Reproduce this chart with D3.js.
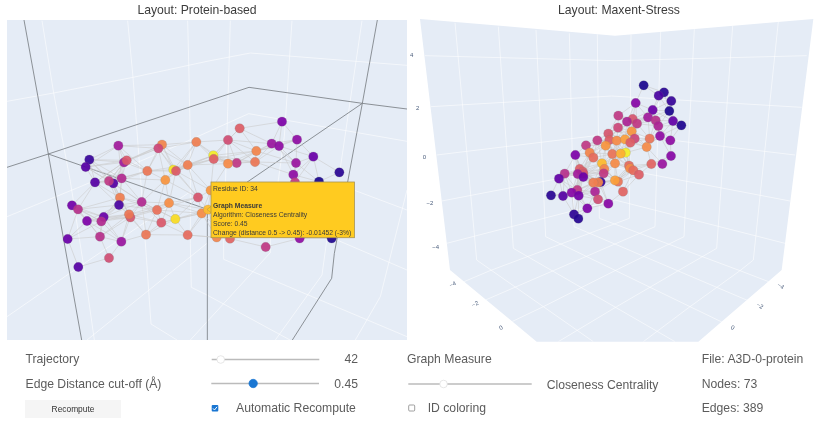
<!DOCTYPE html>
<html>
<head>
<meta charset="utf-8">
<script src="https://cdn.jsdelivr.net/npm/d3@7"></script>
<style>
  html, body { margin: 0; padding: 0; background: #fff; }
  svg { display: block; filter: blur(0.45px); }
  text { font-family: "Liberation Sans", Arial, sans-serif; }
</style>
</head>
<body>
<script>
// values, node positions are projected x / y in a 1245 wide frame per panel
const proteinX = [846,719,891,684,815,837,589,769,486,475,355,640,641,940,888,710,684,765,563,268,257,372,380,442,520,528,880,1018,496,365,340,327,285,957,885,360,594,632,425,357,216,234,507,471,605,391,387,311,261,304,526,484,203,300,364,438,563,650,690,797,899,995,327,235,624];
const proteinY = [365,385,419,420,431,438,426,453,434,445,437,466,477,470,489,489,491,486,495,479,501,487,481,513,509,513,524,517,540,535,550,543,547,545,547,593,592,571,606,615,616,628,609,630,640,652,643,651,663,664,657,668,717,710,725,704,705,712,716,741,715,715,774,801,629];
const proteinScore = [.25,.58,.3,.52,.33,.3,.68,.7,.7,.5,.35,.97,.58,.2,.33,.45,.72,.66,.68,.08,.15,.35,.56,.66,.95,.56,.3,.05,.75,.4,.15,.45,.15,.02,.45,.68,.55,.75,.4,.12,.22,.42,.73,.64,.72,.55,.66,.2,.25,.4,.93,.56,.2,.42,.33,.66,.62,.7,.6,.45,.3,.03,.52,.15,.85];

const stressX = [686,747,731,769,662,763,713,610,699,653,636,666,722,730,774,799,609,650,735,580,583,547,605,630,659,646,704,766,513,572,695,524,481,592,632,617,535,768,561,600,709,742,642,645,655,672,494,568,449,503,505,488,505,566,432,557,609,600,550,535,624,487,540,470,491,408,444,549,580,517,477,490];
const stressY = [256,277,287,303,309,333,330,347,352,357,365,371,361,378,363,376,383,394,408,401,420,421,422,418,416,428,416,421,436,437,441,458,465,462,458,461,473,468,490,490,492,492,497,505,511,524,507,507,521,515,521,522,531,520,536,546,545,541,547,548,575,570,575,578,587,586,588,598,611,625,643,656];
const stressScore = [.02,.05,.12,.08,.28,.02,.2,.45,.35,.55,.38,.45,.42,.38,.18,.03,.5,.75,.3,.55,.58,.45,.72,.78,.5,.58,.65,.3,.45,.75,.72,.7,.25,.65,.98,.82,.62,.28,.85,.72,.6,.33,.62,.72,.62,.58,.58,.7,.42,.58,.55,.35,.2,.45,.18,.08,.65,.78,.7,.68,.6,.45,.38,.28,.22,.05,.15,.52,.28,.25,.06,.04];

const zTicks = ["4","2","0","\u22122","\u22124"];
const zTickX = [-10,8,28,45,62];
const zTickY = [165,325,472,610,740];
const floorLeftTicks = ["\u22124","\u22122","0"];
const floorLeftX = [113,180,258];
const floorLeftY = [853,912,983];
const floorRightTicks = ["\u22124","\u22122","0"];
const floorRightX = [1097,1035,953];
const floorRightY = [858,917,983];

// the scene frames of the two 3D views, same 1245 wide frame
const proteinGrid = [
  [[126,62],[161,279],[211,544],[256,830],[283,1020]],
  [[383,62],[399,232],[439,770],[453,972],[531,1020]],
  [[563,62],[566,184],[571,424],[571,730],[574,862],[621,885],[870,1020]],
  [[691,62],[683,334],[671,720],[671,778],[1221,1010]],
  [[876,62],[853,409],[811,715],[811,758],[571,1020]],
  [[1086,62],[1021,504]],
  [[21,304],[161,279],[399,232],[621,184],[751,159],[1221,196]],
  [[21,650],[241,560],[561,424],[746,341],[1221,424]],
  [[21,950],[216,815],[571,575]],
  [[621,730],[261,1020]],
  [[1061,570],[1221,630]],
  [[981,715],[966,825],[826,1020]],
  [[1011,720],[1221,810]],
  [[1221,570],[1141,890],[1066,1020]]
];
const proteinAxes = [
  [[72,60],[145,462],[245,1020]],
  [[21,502],[145,462],[747,262],[1087,310],[1221,327]],
  [[145,462],[622,628],[622,1020]],
  [[622,628],[1087,310]],
  [[1132,60],[1087,310],[1003,760],[995,835],[877,1020]]
];
const stressWalls = [[15,57],[600,107],[1195,57],[1100,810],[850,1025],[365,1025],[105,810]];
const stressGrid = [
  [[120,68],[185,780],[535,1025]],
  [[250,80],[295,745],[780,1025]],
  [[363,90],[392,710],[825,920],[960,985]],
  [[463,100],[477,680],[990,898],[1100,945]],
  [[547,103],[553,655],[975,812],[1100,860]],
  [[648,103],[643,655],[225,812],[100,865]],
  [[737,95],[720,680],[415,812],[200,905]],
  [[838,87],[807,710],[600,812],[385,920],[280,970]],
  [[953,78],[905,745],[790,812],[605,920],[430,1025]],
  [[1090,65],[1015,780],[975,812],[825,920],[685,1025]],
  [[30,167],[600,182],[1175,167]],
  [[48,320],[590,288],[1160,322]],
  [[65,465],[600,400],[1140,465]],
  [[80,603],[600,503],[1125,603]],
  [[95,730],[600,600],[1110,730]]
];

const trajectoryValue = 42, trajectoryDomain = [0, 500];
const cutoffValue = 0.45, cutoffDomain = [0.1, 1];
const measureIndex = 2, measureDomain = [0, 7];
const tooltipLines = ["Residue ID: 34", "", "Graph Measure", "Algorithm: Closeness Centrality", "Score: 0.45", "Change (distance 0.5 -> 0.45): -0.01452 (-3%)"];

const width = 830, height = 423;
const svg = d3.select("body").append("svg").attr("width", width).attr("height", height);

const xL = d3.scaleLinear().domain([0, 1245]).range([0, 415]);
const xR = d3.scaleLinear().domain([0, 1245]).range([415, 830]);
const y = d3.scaleLinear().domain([0, 1269]).range([0, 423]);
const plasma = d3.interpolatePlasma;

function lineFor(x) {
  return d3.line().x(d => x(d[0])).y(d => y(d[1]));
}

// too many edges to read one by one in the picture, so link nodes under a distance cut-off like the app does
function edgesFor(xs, ys, cut, stretch) {
  const out = [];
  xs.forEach((a, i) => {
    xs.forEach((b, j) => {
      if (j <= i) return;
      const dx = (a - b) / stretch, dy = ys[i] - ys[j];
      if (Math.sqrt(dx * dx + dy * dy) < cut) out.push([i, j]);
    });
  });
  return out;
}

function drawNetwork(g, x, xs, ys, score, cut, stretch) {
  g.append("g").selectAll("line").data(edgesFor(xs, ys, cut, stretch)).join("line")
    .attr("x1", d => x(xs[d[0]])).attr("y1", d => y(ys[d[0]]))
    .attr("x2", d => x(xs[d[1]])).attr("y2", d => y(ys[d[1]]))
    .attr("stroke", "#cacaca").attr("stroke-width", 0.7).attr("stroke-opacity", 0.85);
  g.append("g").selectAll("circle").data(xs).join("circle")
    .attr("cx", d => x(d)).attr("cy", (d, i) => y(ys[i])).attr("r", 4.7)
    .attr("fill", (d, i) => plasma(score[i])).attr("fill-opacity", 0.93)
    .attr("stroke", "#777").attr("stroke-opacity", 0.4).attr("stroke-width", 0.5);
}

// left view
svg.append("clipPath").attr("id", "clipL").append("rect")
  .attr("x", 7).attr("y", 20).attr("width", 400).attr("height", 320);
const left = svg.append("g").attr("clip-path", "url(#clipL)");
left.append("rect").attr("x", 7).attr("y", 20).attr("width", 400).attr("height", 320).attr("fill", "#e5ecf6");
left.append("g").selectAll("path").data(proteinGrid).join("path")
  .attr("d", lineFor(xL)).attr("fill", "none").attr("stroke", "#fff").attr("stroke-width", 0.7).attr("stroke-opacity", 0.8);
left.append("g").selectAll("path").data(proteinAxes).join("path")
  .attr("d", lineFor(xL)).attr("fill", "none").attr("stroke", "#74787e").attr("stroke-width", 0.8);
drawNetwork(left, xL, proteinX, proteinY, proteinScore, 100, 1.35);

// right view
svg.append("clipPath").attr("id", "clipR").append("path")
  .attr("d", lineFor(xR)(stressWalls) + "Z");
const right = svg.append("g");
right.append("path").attr("d", lineFor(xR)(stressWalls) + "Z").attr("fill", "#e5ecf6");
right.append("g").attr("clip-path", "url(#clipR)").selectAll("path").data(stressGrid).join("path")
  .attr("d", lineFor(xR)).attr("fill", "none").attr("stroke", "#fff").attr("stroke-width", 0.7).attr("stroke-opacity", 0.8);
drawNetwork(right, xR, stressX, stressY, stressScore, 72, 1);

const tickStyle = s => s.attr("fill", "#4a5d7c").attr("font-size", 6).attr("text-anchor", "middle").attr("dominant-baseline", "central");
right.append("g").selectAll("text").data(zTicks).join("text").call(tickStyle)
  .attr("x", (d, i) => xR(zTickX[i])).attr("y", (d, i) => y(zTickY[i])).text(d => d);
right.append("g").selectAll("text").data(floorLeftTicks).join("text").call(tickStyle)
  .attr("transform", (d, i) => `translate(${xR(floorLeftX[i])},${y(floorLeftY[i])}) rotate(-25)`).text(d => d);
right.append("g").selectAll("text").data(floorRightTicks).join("text").call(tickStyle)
  .attr("transform", (d, i) => `translate(${xR(floorRightX[i])},${y(floorRightY[i])}) rotate(30)`).text(d => d);

// hover label
const tip = svg.append("g");
tip.append("path").attr("d", "M211.5,206L207,209.5L211.5,213Z").attr("fill", "#ffcb20").attr("stroke", "#a8934f").attr("stroke-width", 0.5);
tip.append("rect").attr("x", 211).attr("y", 182).attr("width", 143.4).attr("height", 55.7)
  .attr("fill", "#ffcb20").attr("stroke", "#a8934f").attr("stroke-width", 0.8);
const tipY = d3.scaleLinear().domain([0, 5]).range([190.5, 234.5]);
tip.selectAll("text").data(tooltipLines).join("text")
  .attr("x", 213).attr("y", (d, i) => tipY(i)).attr("font-size", 6.75).attr("fill", "#3a3a3a")
  .attr("font-weight", d => d === "Graph Measure" ? "bold" : "normal").text(d => d);

// titles
const label = (txt, x, yy, size, anchor) => svg.append("text").attr("x", x).attr("y", yy)
  .attr("font-size", size || 12.2).attr("fill", "#5c5c5c").attr("text-anchor", anchor || "start").text(txt);
label("Layout: Protein-based", 197, 14, 12.2, "middle").attr("fill", "#3c3c3c");
label("Layout: Maxent-Stress", 619, 14, 12.2, "middle").attr("fill", "#3c3c3c");

// controls
function slider(x0, x1, yy, domain, value, active) {
  const s = d3.scaleLinear().domain(domain).range([x0, x1]);
  svg.append("line").attr("x1", x0).attr("x2", x1).attr("y1", yy).attr("y2", yy)
    .attr("stroke", "#bbb").attr("stroke-width", 1.5);
  svg.append("circle").attr("cx", s(value)).attr("cy", yy).attr("r", active ? 4.2 : 3.8)
    .attr("fill", active ? "#1976d2" : "#fff").attr("stroke", active ? "#1976d2" : "#ddd").attr("stroke-width", 0.7);
}
label("Trajectory", 25.5, 363);
slider(211.7, 319.3, 359.5, trajectoryDomain, trajectoryValue, false);
label(String(trajectoryValue), 358, 363, 12.2, "end");
label("Edge Distance cut-off (\u00c5)", 25.5, 387.5);
slider(211.3, 319, 383.5, cutoffDomain, cutoffValue, true);
label(String(cutoffValue), 358, 387.5, 12.2, "end");
svg.append("rect").attr("x", 25).attr("y", 400).attr("width", 96).attr("height", 18).attr("fill", "#f5f5f5");
svg.append("text").attr("x", 73).attr("y", 411.5).attr("font-size", 8.4).attr("fill", "#333").attr("text-anchor", "middle").text("Recompute");
svg.append("rect").attr("x", 211.7).attr("y", 405).attr("width", 6.6).attr("height", 6.6).attr("rx", 1).attr("fill", "#1976d2");
svg.append("path").attr("d", "M213,408.4L214.5,410L217,406.8").attr("fill", "none").attr("stroke", "#fff").attr("stroke-width", 1);
label("Automatic Recompute", 236, 412);

label("Graph Measure", 407, 363);
slider(408.3, 531.7, 384, measureDomain, measureIndex, false);
label("Closeness Centrality", 546.7, 389);
svg.append("rect").attr("x", 408.7).attr("y", 405).attr("width", 6).attr("height", 6).attr("rx", 1).attr("fill", "#fff").attr("stroke", "#888").attr("stroke-width", 0.8);
label("ID coloring", 427.7, 412);
label("File: A3D-0-protein", 701.7, 363);
label("Nodes: 73", 701.7, 388);
label("Edges: 389", 701.7, 412);
</script>
</body>
</html>
